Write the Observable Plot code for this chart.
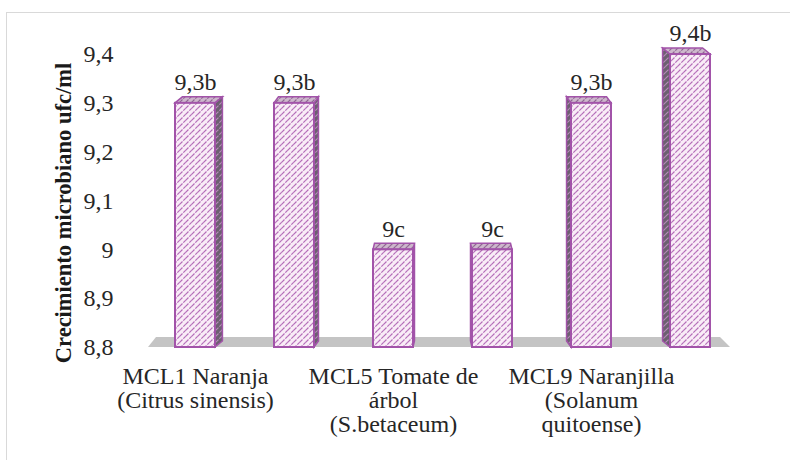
<!DOCTYPE html>
<html><head><meta charset="utf-8">
<script src="https://cdn.jsdelivr.net/npm/d3@7"></script>
<script src="https://cdn.jsdelivr.net/npm/@observablehq/plot@0.6"></script>
<style>
body{margin:0;background:#fff;}
#chart{width:790px;height:460px;}
</style>
</head><body><div id="chart"></div>
<script>
const categories = ["c1", "c2", "c3", "c4", "c5", "c6"];
const values = [9.3, 9.3, 9.0, 9.0, 9.3, 9.4];
const valueLabels = ["9,3b", "9,3b", "9c", "9c", "9,3b", "9,4b"];
const categoryLabels = [
  "MCL1 Naranja\n(Citrus sinensis)", "",
  "MCL5 Tomate de\nárbol\n(S.betaceum)", "",
  "MCL9 Naranjilla\n(Solanum\nquitoense)", ""
];
const yTicks = [8.8, 8.9, 9.0, 9.1, 9.2, 9.3, 9.4];
const yTickLabels = ["8,8", "8,9", "9", "9,1", "9,2", "9,3", "9,4"];
const yTitle = "Crecimiento microbiano ufc/ml";

const data = categories.map((c, i) => ({cat: c, value: values[i], label: valueLabels[i]}));
const yBase = yTicks[0];

const BORDER = "#a253a9";
const FONT = "Liberation Serif";
const TXT = "#262626";

function bandw(x) { return x.bandwidth ? x.bandwidth() : 40; }

function floorMark(index, scales) {
  const x = scales.x, y = scales.y, bw = bandw(x);
  const l = x(categories[0]), r = x(categories[categories.length - 1]) + bw, yb = y(yBase);
  const g = d3.create("svg:g");
  g.append("path")
    .attr("d", `M${l - 27},${yb}L${r + 20},${yb}L${r + 10},${yb - 10}L${l - 19},${yb - 10}Z`)
    .attr("fill", "#c4c4c4");
  return g.node();
}

function facesMark(index, scales) {
  const x = scales.x, y = scales.y, bw = bandw(x);
  const mid = (x(categories[0]) + x(categories[categories.length - 1]) + bw) / 2;
  const g = d3.create("svg:g");
  data.forEach(d => {
    const xl = x(d.cat), xr = xl + bw, yt = y(d.value), yb = y(yBase);
    const ox = (mid - (xl + bw / 2)) * 0.03, oy = -6;
    if (ox > 0.5) {
      g.append("path")
        .attr("d", `M${xr},${yt}L${xr + ox},${yt + oy}L${xr + ox},${yb + oy}L${xr},${yb}Z`)
        .attr("fill", "url(#hatchSide)").attr("stroke", BORDER).attr("stroke-width", 1.5);
    } else if (ox < -0.5) {
      g.append("path")
        .attr("d", `M${xl},${yt}L${xl + ox},${yt + oy}L${xl + ox},${yb + oy}L${xl},${yb}Z`)
        .attr("fill", "url(#hatchSide)").attr("stroke", BORDER).attr("stroke-width", 1.5);
    }
    g.append("path")
      .attr("d", `M${xl},${yt}L${xl + ox},${yt + oy}L${xr + ox},${yt + oy}L${xr},${yt}Z`)
      .attr("fill", "url(#hatchTop)").attr("stroke", BORDER).attr("stroke-width", 1.5);
  });
  return g.node();
}

const svg = Plot.plot({
  width: 790,
  height: 460,
  marginTop: 54,
  marginBottom: 113,
  marginLeft: 115,
  marginRight: 21,
  style: {fontFamily: FONT, fontSize: "24px"},
  x: {type: "band", domain: categories, padding: 0.6, axis: null},
  y: {domain: [yTicks[0], yTicks[yTicks.length - 1]], axis: null},
  marks: [
    floorMark,
    facesMark,
    Plot.barY(data, {x: "cat", y1: () => yBase, y2: "value", fill: "url(#hatchFront)", stroke: BORDER, strokeWidth: 2}),
    Plot.text(data, {x: "cat", y: "value", text: "label", dy: -21, fontSize: 24, fill: TXT}),
    Plot.axisY(yTicks, {
      tickSize: 0, tickPadding: 2, fontSize: 24, fill: TXT, fontVariant: "normal",
      tickFormat: d => yTickLabels[yTicks.indexOf(d)], label: null
    }),
    Plot.axisX(categories, {
      tickSize: 0, tickPadding: 19, fontSize: 24, lineHeight: 1.0, fill: TXT,
      tickFormat: d => categoryLabels[categories.indexOf(d)], label: null
    }),
    Plot.text([yTitle], {
      frameAnchor: "left", rotate: -90, dx: -52, dy: 12,
      fontSize: 22.5, fontWeight: "bold", fill: "#1a1a1a", textAnchor: "middle"
    })
  ]
});

const s = d3.select(svg);
const defs = s.insert("defs", ":first-child");
function hatch(id, bg, line, w) {
  const p = defs.append("pattern").attr("id", id)
    .attr("patternUnits", "userSpaceOnUse").attr("width", 6).attr("height", 6);
  p.append("rect").attr("width", 6).attr("height", 6).attr("fill", bg);
  p.append("path").attr("d", "M-1,1L1,-1M0,6L6,0M5,7L7,5")
    .attr("stroke", line).attr("stroke-width", w).attr("stroke-dasharray", "3.5,1.2");
}
hatch("hatchFront", "#f9ecf7", "#b46cb8", 1.2);
hatch("hatchTop", "#cdb7cc", "#8f6592", 1.2);
hatch("hatchSide", "#6c6070", "#b98abb", 1.1);
s.append("rect").attr("x", 6.5).attr("y", 12.5).attr("width", 820).attr("height", 520)
  .attr("fill", "none").attr("stroke", "#d9d9d9").attr("stroke-width", 1);

document.getElementById("chart").appendChild(svg);
</script>
</body></html>
